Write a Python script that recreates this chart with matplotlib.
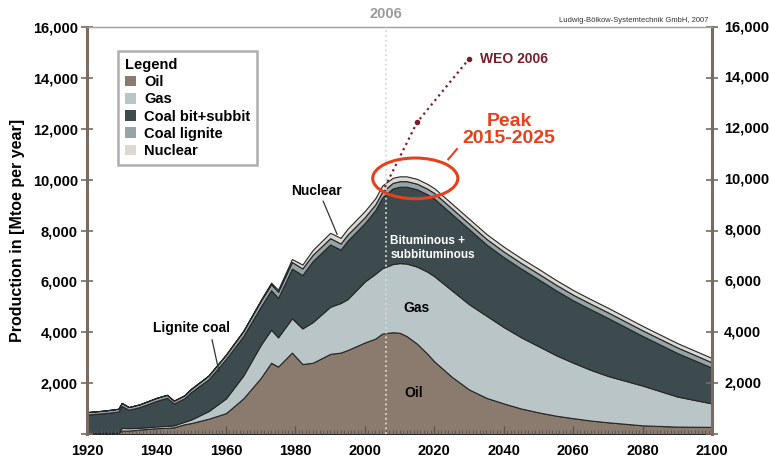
import numpy as np
import matplotlib
matplotlib.use("Agg")
import matplotlib.pyplot as plt
from matplotlib.patches import Patch, Ellipse
from matplotlib.ticker import FuncFormatter, MultipleLocator

plt.rcParams['font.family'] = ['Liberation Sans', 'DejaVu Sans']
plt.rcParams['font.weight'] = 'bold'

# world fossil + nuclear production, Mtoe per year (layer thickness)
years = [1920, 1925, 1929, 1930, 1932, 1935, 1940, 1943, 1945, 1948,
         1950, 1955, 1960, 1965, 1970, 1973, 1975, 1979, 1982, 1985,
         1990, 1993, 1995, 2000, 2003, 2005, 2008, 2010, 2012, 2015,
         2018, 2020, 2025, 2030, 2035, 2040, 2045, 2050, 2055, 2060,
         2065, 2070, 2080, 2090, 2100]
oil = [30, 40, 50, 130, 130, 170, 230, 240, 260, 380,
       430, 600, 820, 1400, 2200, 2800, 2650, 3200, 2750, 2800,
       3150, 3200, 3300, 3600, 3750, 3950, 4000, 3980, 3850, 3550,
       3150, 2850, 2250, 1750, 1420, 1200, 1000, 850, 720, 620,
       530, 460, 340, 290, 280]
gas = [0, 0, 0, 110, 100, 70, 70, 80, 80, 100,
       140, 300, 580, 900, 1300, 1300, 1150, 1350, 1400, 1600,
       1850, 1950, 2000, 2400, 2550, 2570, 2680, 2740, 2850, 3030,
       3230, 3350, 3400, 3350, 3230, 3000, 2800, 2600, 2380, 2180,
       1990, 1820, 1560, 1180, 920]
coal_bit = [730, 780, 830, 860, 720, 810, 1000, 1100, 860, 920,
            1080, 1250, 1550, 1550, 1500, 1550, 1550, 1950, 2100, 2400,
            2450, 2100, 2300, 2300, 2500, 2780, 2970, 3000, 3020, 3040,
            3040, 3050, 3000, 2950, 2800, 2750, 2700, 2630, 2550, 2450,
            2380, 2280, 1950, 1710, 1400]
lignite = [100, 100, 110, 120, 110, 110, 120, 120, 110, 120,
           130, 150, 170, 200, 230, 240, 240, 260, 260, 250,
           250, 240, 240, 230, 230, 230, 220, 220, 220, 220,
           220, 220, 220, 220, 220, 220, 220, 220, 220, 220,
           220, 220, 220, 220, 210]
nuclear = [0, 0, 0, 0, 0, 0, 0, 0, 0, 0,
           0, 0, 0, 10, 40, 60, 80, 120, 150, 190,
           210, 220, 230, 240, 240, 240, 200, 190, 190, 190,
           190, 190, 190, 190, 190, 190, 190, 190, 185, 185,
           180, 180, 175, 170, 170]

layer_names = ["Oil", "Gas", "Coal bit+subbit", "Coal lignite", "Nuclear"]
layer_colors = ["#8b7b6f", "#b9c5c7", "#3e4b4e", "#94a4a7", "#dcd9d3"]

weo_years = [2005, 2015, 2030]
weo_values = [9500, 12250, 14750]

fig = plt.figure(figsize=(7.7, 4.61), dpi=100)
ax = fig.add_axes([0.113, 0.0586, 0.812, 0.8828])

ax.stackplot(years, oil, gas, coal_bit, lignite, nuclear,
             colors=layer_colors, edgecolor="#262626", linewidth=0.8)

ax.set_xlim(1920, 2100)
ax.set_ylim(0, 16000)

spine_col = "#776b63"
ax.spines['left'].set_color(spine_col)
ax.spines['left'].set_linewidth(2.2)
ax.spines['right'].set_color(spine_col)
ax.spines['right'].set_linewidth(2.2)
ax.spines['top'].set_color("#a0a0a0")
ax.spines['top'].set_linewidth(1.0)
ax.spines['bottom'].set_visible(False)

ax.set_yticks(range(0, 16001, 2000))
ax.yaxis.set_major_formatter(FuncFormatter(lambda v, p: "" if v == 0 else f"{int(v):,}"))
ax.tick_params(axis='y', which='major', direction='inout', length=9, width=1.2,
               color=spine_col, left=True, right=True, labelleft=True,
               labelright=False, labelsize=10.5, pad=2)
ax.set_xticks(range(1920, 2101, 20))
ax.xaxis.set_minor_locator(MultipleLocator(1))
ax.tick_params(axis='x', which='major', direction='in', length=6, width=1.0,
               color="#555555", labelsize=10.5, pad=7)
ax.tick_params(axis='x', which='minor', direction='in', length=3, width=0.6,
               color="#555555")
for lab in ax.get_xticklabels() + ax.get_yticklabels():
    lab.set_fontweight('bold')

# right-hand labels sit a bit further from the spine
for v in range(2000, 16001, 2000):
    ax.text(1.019, v / 16000, f"{v:,}", transform=ax.transAxes, ha='left',
            va='center', fontsize=10.5, fontweight='bold')

ax.set_ylabel("Production in [Mtoe per year]", fontsize=11.5, fontweight='bold',
              labelpad=6)

# 2006 marker
ax.axvline(2006, color="#d8d8d8", lw=1.3, ls=':', zorder=3)
ax.text(2006, 16250, "2006", ha='center', va='bottom', color="#9a9a9a",
        fontsize=10.5, fontweight='bold')
ax.text(2099, 16120, "Ludwig-Bölkow-Systemtechnik GmbH, 2007", ha='right',
        va='bottom', fontsize=5.5, fontweight='normal', color="#333333")

# WEO 2006 projection
ax.plot(weo_years, weo_values, ls=':', color="#7a1f2b", lw=1.6, zorder=4)
ax.plot(weo_years[1:], weo_values[1:], 'o', color="#7a1f2b", ms=3, zorder=4)
ax.text(2033, 14750, "WEO 2006", color="#7a1f2b", fontsize=10,
        fontweight='bold', va='center')

# peak marker
ax.add_patch(Ellipse((2014.5, 10050), 24.5, 1600, fill=False,
                     edgecolor="#e8401c", lw=2.2, zorder=5))
ax.plot([2024, 2026.5], [10800, 11200], color="#e8401c", lw=1.5, zorder=5)
ax.text(2041.5, 11950, "Peak\n2015-2025", color="#e8401c", fontsize=14,
        fontweight='bold', ha='center', va='center', linespacing=1.0)

# layer annotations
ax.text(1986, 9400, "Nuclear", fontsize=10, fontweight='bold', ha='center')
ax.plot([1988, 1992], [9150, 7850], color="#333333", lw=0.9)
ax.text(1950, 4000, "Lignite coal", fontsize=10, fontweight='bold', ha='center')
ax.plot([1956, 1958], [3700, 2450], color="#333333", lw=0.9)
ax.text(2007.3, 7300, "Bituminous +\nsubbituminous", fontsize=8.5,
        fontweight='bold', color="white", ha='left', va='center',
        linespacing=1.25)
ax.text(2015, 4800, "Gas", fontsize=10, fontweight='bold', ha='center')
ax.text(2014, 1450, "Oil", fontsize=10, fontweight='bold', ha='center')

handles = [Patch(facecolor=c, edgecolor='none') for c in layer_colors]
leg = ax.legend(handles, layer_names, title="Legend", loc='upper left',
                bbox_to_anchor=(0.038, 0.958), frameon=True, fancybox=False,
                edgecolor="#9a9a9a", fontsize=10.5, title_fontsize=10.5,
                handlelength=0.75, handleheight=0.75, handletextpad=0.6,
                labelspacing=0.22, borderpad=0.45, alignment='left')
leg.get_frame().set_linewidth(1.8)
leg.get_title().set_fontweight('bold')
for t in leg.get_texts():
    t.set_fontweight('bold')

fig.savefig("out.png", dpi=100)
